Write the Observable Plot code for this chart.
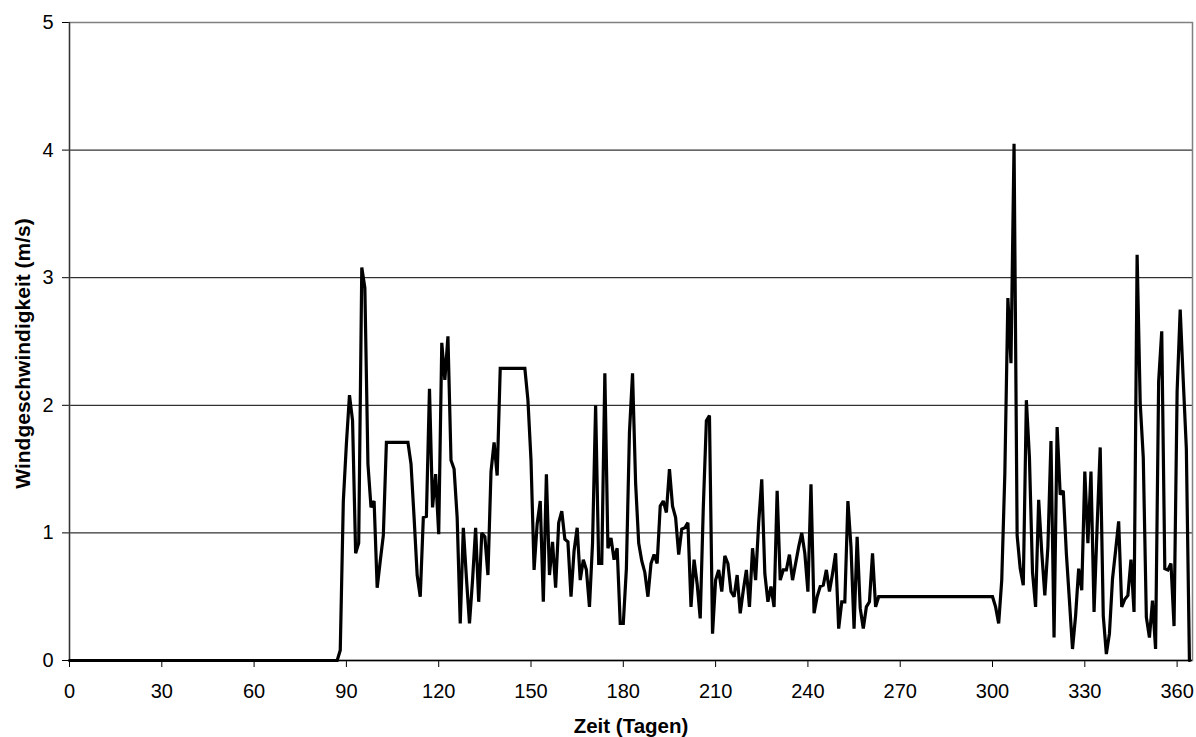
<!DOCTYPE html>
<html>
<head>
<meta charset="utf-8">
<script src="https://cdn.jsdelivr.net/npm/d3@7"></script>
<script src="https://cdn.jsdelivr.net/npm/@observablehq/plot@0.6"></script>
<style>
  html, body { margin: 0; padding: 0; background: #fff; }
</style>
</head>
<body>
<div id="chart"></div>
<script>
// Tag des Jahres (Stützpunkte der Linie)
const days = [
  0, 87, 88, 89, 90, 91, 92, 93, 94, 95, 96, 97, 98, 99, 100, 101, 102, 103,
  110, 111, 112, 113, 114, 115, 116, 117, 118, 119, 120, 121, 122, 123, 124, 125,
  126, 127, 128, 129, 130, 131, 132, 133, 134, 135, 136, 137, 138, 139, 140,
  148, 149, 150, 151, 152, 153, 154, 155, 156, 157, 158, 159, 160, 161, 162, 163,
  164, 165, 166, 167, 168, 169, 170, 171, 172, 173, 174, 175, 176, 177, 178, 179,
  180, 181, 182, 183, 184, 185, 186, 187, 188, 189, 190, 191, 192, 193, 194, 195,
  196, 197, 198, 199, 200, 201, 202, 203, 204, 205, 206, 207, 208, 209, 210, 211,
  212, 213, 214, 215, 216, 217, 218, 219, 220, 221, 222, 223, 224, 225, 226, 227,
  228, 229, 230, 231, 232, 233, 234, 235, 236, 237, 238, 239, 240, 241, 242, 243,
  244, 245, 246, 247, 248, 249, 250, 251, 252, 253, 254, 255, 256, 257, 258, 259,
  260, 261, 262, 263,
  300, 301, 302, 303, 304, 305, 306, 307, 308, 309, 310, 311, 312, 313, 314, 315,
  316, 317, 318, 319, 320, 321, 322, 323, 324, 325, 326, 327, 328, 329, 330, 331,
  332, 333, 334, 335, 336, 337, 338, 339, 340, 341, 342, 343, 344, 345, 346, 347,
  348, 349, 350, 351, 352, 353, 354, 355, 356, 357, 358, 359, 360, 361, 362, 363, 364
];
// Windgeschwindigkeit (m/s)
const speed = [
  0, 0, 0.08, 1.25, 1.7, 2.08, 1.88, 0.84, 0.92, 3.08, 2.92, 1.54, 1.2, 1.25, 0.57, 0.78, 0.98, 1.71,
  1.71, 1.54, 1.12, 0.67, 0.5, 1.12, 1.13, 2.13, 1.2, 1.46, 0.99, 2.49, 2.2, 2.54, 1.57, 1.5,
  1.12, 0.29, 1.04, 0.65, 0.29, 0.63, 1.04, 0.46, 1.0, 0.97, 0.67, 1.48, 1.71, 1.45, 2.29,
  2.29, 2.04, 1.57, 0.71, 1.07, 1.25, 0.46, 1.46, 0.67, 0.93, 0.57, 1.08, 1.17, 0.95, 0.93, 0.5,
  0.86, 1.04, 0.63, 0.79, 0.71, 0.42, 0.92, 2.0, 0.76, 0.76, 2.25, 0.88, 0.96, 0.79, 0.88, 0.29,
  0.29, 0.72, 1.79, 2.25, 1.39, 0.92, 0.78, 0.69, 0.5, 0.76, 0.83, 0.76, 1.21, 1.25, 1.16, 1.5,
  1.21, 1.12, 0.83, 1.03, 1.04, 1.08, 0.42, 0.79, 0.6, 0.33, 1.2, 1.88, 1.92, 0.21, 0.63, 0.71,
  0.54, 0.82, 0.76, 0.54, 0.5, 0.67, 0.37, 0.55, 0.71, 0.42, 0.88, 0.63, 1.08, 1.42, 0.68, 0.46,
  0.58, 0.42, 1.33, 0.63, 0.71, 0.71, 0.83, 0.63, 0.76, 0.89, 1.0, 0.84, 0.54, 1.38, 0.37, 0.5,
  0.58, 0.59, 0.71, 0.54, 0.68, 0.84, 0.25, 0.46, 0.46, 1.25, 0.89, 0.25, 0.97, 0.41, 0.25, 0.42,
  0.46, 0.84, 0.42, 0.5,
  0.5, 0.42, 0.29, 0.63, 1.46, 2.84, 2.33, 4.05, 0.98, 0.72, 0.59, 2.04, 1.59, 0.69, 0.42, 1.26,
  0.85, 0.51, 0.89, 1.72, 0.18, 1.83, 1.3, 1.33, 0.84, 0.47, 0.09, 0.35, 0.72, 0.55, 1.48, 0.92,
  1.48, 0.38, 1.05, 1.67, 0.35, 0.05, 0.21, 0.64, 0.86, 1.09, 0.42, 0.48, 0.51, 0.79, 0.38, 3.18,
  2.02, 1.59, 0.34, 0.18, 0.47, 0.09, 2.19, 2.58, 0.72, 0.71, 0.76, 0.27, 2.11, 2.75, 2.19, 1.66, 0
];
const xTicks = [0, 30, 60, 90, 120, 150, 180, 210, 240, 270, 300, 330, 360];
const yTicks = [0, 1, 2, 3, 4, 5];
const gridValues = [1, 2, 3, 4];
const xTitle = "Zeit (Tagen)";
const yTitle = "Windgeschwindigkeit (m/s)";

const data = days.map((d, i) => ({day: d, speed: speed[i]}));

const chart = Plot.plot({
  width: 1196,
  height: 737,
  marginLeft: 69,
  marginRight: 4,
  marginTop: 22,
  marginBottom: 77,
  style: {
    fontSize: "20px",
    fontFamily: "'Liberation Sans', Arial, sans-serif",
    color: "#000",
    background: "#fff"
  },
  x: {domain: [0, 365], ticks: xTicks, tickSize: 7, tickPadding: 16, label: null, tickFormat: d => String(d)},
  y: {domain: [0, 5], ticks: yTicks, tickSize: 7, tickPadding: 9, label: null, tickFormat: d => String(d)},
  marks: [
    Plot.ruleY(gridValues, {stroke: "#000", strokeWidth: 1}),
    Plot.frame({stroke: "#808080", strokeWidth: 1.5}),
    Plot.ruleX([0], {stroke: "#333", strokeWidth: 1.3}),
    Plot.ruleY([0], {stroke: "#000", strokeWidth: 1.3}),
    Plot.line(data, {x: "day", y: "speed", stroke: "#000", strokeWidth: 3.2, strokeLinejoin: "miter", strokeMiterlimit: 2}),
    Plot.text([xTitle], {text: d => d, frameAnchor: "bottom", dy: 72, lineAnchor: "bottom", fontWeight: "bold", fontSize: 20.5}),
    Plot.text([yTitle], {text: d => d, frameAnchor: "left", dx: -40, dy: 12, rotate: -90, textAnchor: "middle", lineAnchor: "bottom", fontWeight: "bold", fontSize: 21})
  ]
});
document.getElementById("chart").appendChild(chart);
</script>
</body>
</html>
